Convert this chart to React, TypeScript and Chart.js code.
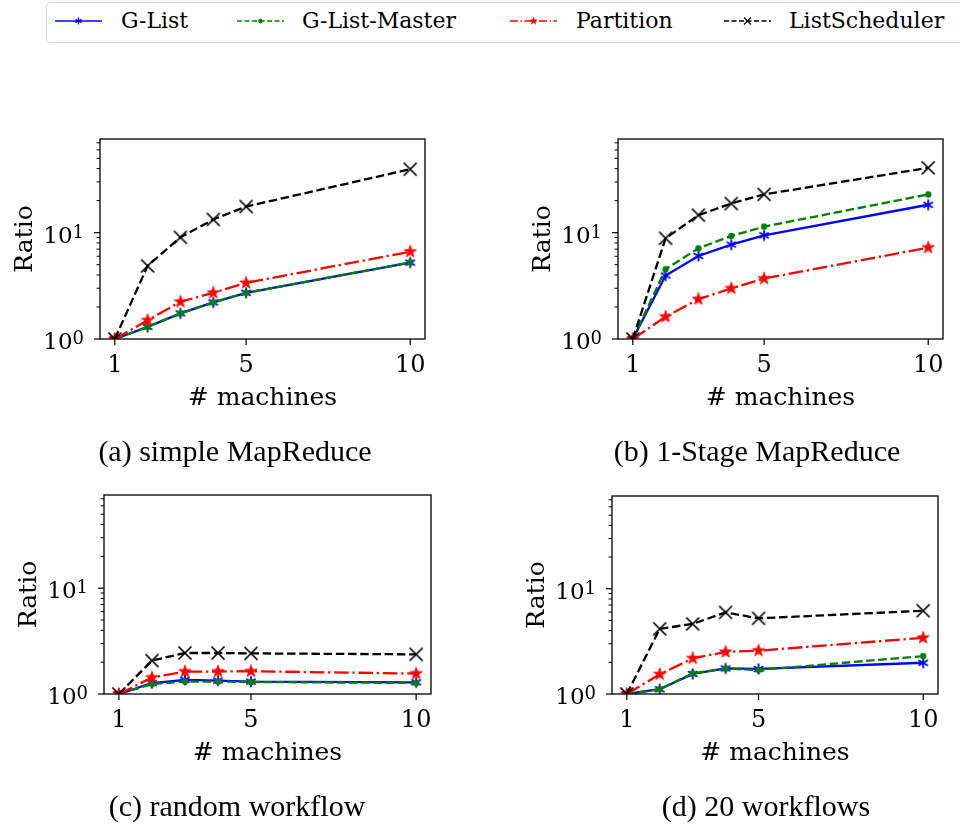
import React, { useEffect, useRef } from 'react';
import { Chart, registerables } from 'chart.js';

Chart.register(...registerables);

// ---------------- data ----------------
const machines = [1, 2, 3, 4, 5, 10];
const seriesNames = ['G-List', 'G-List-Master', 'Partition', 'ListScheduler'];

// (a) simple MapReduce
const simpleGList = [1, 1.3, 1.74, 2.21, 2.72, 5.23];
const simpleGListMaster = [1, 1.3, 1.74, 2.21, 2.72, 5.25];
const simplePartition = [1, 1.5, 2.24, 2.72, 3.37, 6.63];
const simpleListScheduler = [1, 4.87, 9.04, 13.3, 17.6, 39.5];

// (b) 1-Stage MapReduce
const stageGList = [1, 3.95, 6.04, 7.72, 9.44, 18.3];
const stageGListMaster = [1, 4.53, 7.13, 9.31, 11.4, 22.9];
const stagePartition = [1, 1.62, 2.37, 2.99, 3.7, 7.24];
const stageListScheduler = [1, 8.85, 14.6, 18.8, 22.9, 40.7];

// (c) random workflow
const randomGList = [1, 1.27, 1.36, 1.34, 1.31, 1.29];
const randomGListMaster = [1, 1.24, 1.31, 1.31, 1.3, 1.27];
const randomPartition = [1, 1.43, 1.63, 1.63, 1.64, 1.56];
const randomListScheduler = [1, 2.07, 2.44, 2.44, 2.42, 2.37];

// (d) 20 workflows
const twentyGList = [1, 1.11, 1.55, 1.75, 1.73, 1.98];
const twentyGListMaster = [1, 1.11, 1.57, 1.74, 1.69, 2.29];
const twentyPartition = [1, 1.54, 2.18, 2.51, 2.58, 3.42];
const twentyListScheduler = [1, 4.16, 4.63, 5.96, 5.23, 6.18];

const xTickValues = [1, 5, 10];
const xTickLabels = ['1', '5', '10'];
const yMajorTicks = [1, 10];
const yMajorBase = ['10', '10'];
const yMajorExp = ['0', '1'];
const yMinorTicks = [2, 3, 4, 5, 6, 7, 8, 9, 20, 30, 40, 50, 60, 70];
const xAxisTitle = '# machines';
const yAxisTitle = 'Ratio';
const captions = ['(a) simple MapReduce', '(b) 1-Stage MapReduce', '(c) random workflow', '(d) 20 workflows'];

const X_MIN = 0.55;
const X_MAX = 10.45;
const Y_MIN = 1;
const Y_MAX = 76;

// ---------------- styles / layout ----------------
const STYLES = [
  { color: '#0000ff', dash: [] as number[], marker: 'asterisk', legendDash: [] as number[] },
  { color: '#008000', dash: [8.5, 3.7], marker: 'circle', legendDash: [5, 2.5] },
  { color: '#ff0000', dash: [14.7, 3.7, 2.3, 3.7], marker: 'star', legendDash: [8, 2.5, 1.5, 2.5] },
  { color: '#000000', dash: [8.5, 3.7], marker: 'x', legendDash: [5, 2.5] },
];

const PANELS = [
  { cx: 0, cy: 90, cw: 480, ch: 380, l: 100, t: 139, r: 425, b: 339, capX: 235, capY: 461,
    series: [simpleGList, simpleGListMaster, simplePartition, simpleListScheduler] },
  { cx: 480, cy: 90, cw: 480, ch: 380, l: 618, t: 139, r: 943, b: 339, capX: 757, capY: 461,
    series: [stageGList, stageGListMaster, stagePartition, stageListScheduler] },
  { cx: 0, cy: 470, cw: 480, ch: 358, l: 104, t: 495, r: 431, b: 694, capX: 237, capY: 816,
    series: [randomGList, randomGListMaster, randomPartition, randomListScheduler] },
  { cx: 480, cy: 470, cw: 480, ch: 358, l: 612, t: 496, r: 938, b: 694, capX: 766, capY: 816,
    series: [twentyGList, twentyGListMaster, twentyPartition, twentyListScheduler] },
];

const LEGEND_LINE_X = [55, 237, 510, 724];
const LEGEND_TEXT_X = [121, 302, 576, 789];

// ---------------- markers ----------------
function makeCanvas(size: number) {
  const c = document.createElement('canvas');
  c.width = size;
  c.height = size;
  return c;
}

function markerCanvas(kind: string, color: string) {
  if (kind === 'star') {
    const ro = 6.5, ri = 2.6;
    const s = 18;
    const c = makeCanvas(s);
    const g = c.getContext('2d')!;
    g.translate(s / 2, s / 2);
    g.beginPath();
    for (let k = 0; k < 10; k++) {
      const r = k % 2 === 0 ? ro : ri;
      const a = -Math.PI / 2 + (k * Math.PI) / 5;
      g.lineTo(r * Math.cos(a), r * Math.sin(a));
    }
    g.closePath();
    g.fillStyle = color;
    g.fill();
    g.strokeStyle = color;
    g.lineWidth = 0.8;
    g.stroke();
    return c;
  }
  if (kind === 'asterisk') {
    const s = 16;
    const c = makeCanvas(s);
    const g = c.getContext('2d')!;
    g.translate(s / 2, s / 2);
    g.strokeStyle = color;
    g.lineWidth = 1.8;
    g.lineCap = 'butt';
    const len = 5.5;
    for (let k = 0; k < 3; k++) {
      const a = -Math.PI / 2 + (k * Math.PI) / 3;
      g.beginPath();
      g.moveTo(-len * Math.cos(a), -len * Math.sin(a));
      g.lineTo(len * Math.cos(a), len * Math.sin(a));
      g.stroke();
    }
    return c;
  }
  if (kind === 'circle') {
    const s = 10;
    const c = makeCanvas(s);
    const g = c.getContext('2d')!;
    g.beginPath();
    g.arc(s / 2, s / 2, 3.2, 0, Math.PI * 2);
    g.fillStyle = color;
    g.fill();
    return c;
  }
  // x
  const s = 18;
  const c = makeCanvas(s);
  const g = c.getContext('2d')!;
  g.translate(s / 2, s / 2);
  g.strokeStyle = color;
  g.lineWidth = 1.7;
  const h = 6.5;
  g.beginPath();
  g.moveTo(-h, -h);
  g.lineTo(h, h);
  g.moveTo(-h, h);
  g.lineTo(h, -h);
  g.stroke();
  return c;
}

// ---------------- axes plugin ----------------
const SERIF = '"DejaVu Serif", serif';

function makeAxesPlugin(caption: string, capX: number, capY: number) {
  return {
    id: 'mplAxes',
    afterDraw(chart: any) {
      const { ctx, chartArea, scales } = chart;
      const { left, top, right, bottom } = chartArea;
      const xs = scales.x;
      const ys = scales.y;
      ctx.save();
      ctx.strokeStyle = '#000';
      ctx.fillStyle = '#000';
      // frame
      ctx.lineWidth = 1.3;
      ctx.strokeRect(left, top, right - left, bottom - top);
      // x ticks
      ctx.lineWidth = 1.2;
      ctx.font = `24px ${SERIF}`;
      ctx.textAlign = 'center';
      ctx.textBaseline = 'alphabetic';
      xTickValues.forEach((v, i) => {
        const px = xs.getPixelForValue(v);
        ctx.beginPath();
        ctx.moveTo(px, bottom);
        ctx.lineTo(px, bottom + 6);
        ctx.stroke();
        ctx.fillText(xTickLabels[i], px, bottom + 32.5);
      });
      // y minor ticks
      ctx.lineWidth = 1;
      yMinorTicks.forEach((v) => {
        const py = ys.getPixelForValue(v);
        ctx.beginPath();
        ctx.moveTo(left, py);
        ctx.lineTo(left - 3.5, py);
        ctx.stroke();
      });
      // y major ticks + labels
      ctx.lineWidth = 1.2;
      yMajorTicks.forEach((v, i) => {
        const py = ys.getPixelForValue(v);
        ctx.beginPath();
        ctx.moveTo(left, py);
        ctx.lineTo(left - 6, py);
        ctx.stroke();
        ctx.textAlign = 'left';
        ctx.font = `18px ${SERIF}`;
        const w2 = ctx.measureText(yMajorExp[i]).width;
        ctx.font = `23px ${SERIF}`;
        const w1 = ctx.measureText(yMajorBase[i]).width;
        const rEdge = left - 16;
        ctx.fillText(yMajorBase[i], rEdge - w2 - w1, py + 10);
        ctx.font = `18px ${SERIF}`;
        ctx.fillText(yMajorExp[i], rEdge - w2, py + 5.2);
      });
      // axis titles
      ctx.font = `25px ${SERIF}`;
      ctx.textAlign = 'center';
      ctx.fillText(xAxisTitle, (left + right) / 2, bottom + 66);
      ctx.save();
      ctx.translate(left - 68, (top + bottom) / 2);
      ctx.rotate(-Math.PI / 2);
      ctx.fillText(yAxisTitle, 0, 0);
      ctx.restore();
      // caption
      ctx.font = `30px "Liberation Serif", serif`;
      ctx.textAlign = 'center';
      ctx.fillText(caption, capX, capY);
      ctx.restore();
    },
  };
}

// ---------------- components ----------------
function Panel({ idx }: { idx: number }) {
  const ref = useRef<HTMLCanvasElement>(null);
  const p = PANELS[idx];
  useEffect(() => {
    const canvas = ref.current!;
    const datasets = p.series.map((vals, si) => {
      const st = STYLES[si];
      return {
        label: seriesNames[si],
        data: machines.map((m, k) => ({ x: m, y: vals[k] })),
        borderColor: st.color,
        backgroundColor: st.color,
        borderWidth: 2.3,
        borderDash: st.dash,
        pointStyle: markerCanvas(st.marker, st.color) as any,
        pointRadius: 6,
        pointHoverRadius: 6,
        fill: false,
        tension: 0,
        order: 3 - si,
      };
    });
    const chart = new Chart(canvas, {
      type: 'line',
      data: { datasets },
      options: {
        animation: false,
        responsive: false,
        events: [],
        layout: {
          padding: {
            left: p.l - p.cx,
            top: p.t - p.cy,
            right: p.cx + p.cw - p.r,
            bottom: p.cy + p.ch - p.b,
          },
        },
        scales: {
          x: { type: 'linear', min: X_MIN, max: X_MAX, display: false },
          y: { type: 'logarithmic', min: Y_MIN, max: Y_MAX, display: false },
        },
        plugins: { legend: { display: false }, tooltip: { enabled: false } },
      },
      plugins: [makeAxesPlugin(captions[idx], p.capX - p.cx, p.capY - p.cy)],
    } as any);
    return () => chart.destroy();
  }, []);
  return (
    <canvas
      ref={ref}
      width={p.cw}
      height={p.ch}
      style={{ position: 'absolute', left: p.cx, top: p.cy, width: p.cw, height: p.ch }}
    />
  );
}

function LegendMarker({ kind, color }: { kind: string; color: string }) {
  const cx = 23.5, cy = 10;
  if (kind === 'star') {
    const pts: string[] = [];
    for (let k = 0; k < 10; k++) {
      const r = k % 2 === 0 ? 4.5 : 1.8;
      const a = -Math.PI / 2 + (k * Math.PI) / 5;
      pts.push(`${cx + r * Math.cos(a)},${cy + r * Math.sin(a)}`);
    }
    return <polygon points={pts.join(' ')} fill={color} />;
  }
  if (kind === 'asterisk') {
    const lines = [0, 1, 2].map((k) => {
      const a = -Math.PI / 2 + (k * Math.PI) / 3;
      const l = 3.5;
      return (
        <line key={k} x1={cx - l * Math.cos(a)} y1={cy - l * Math.sin(a)} x2={cx + l * Math.cos(a)} y2={cy + l * Math.sin(a)} stroke={color} strokeWidth={1.3} />
      );
    });
    return <g>{lines}</g>;
  }
  if (kind === 'circle') return <circle cx={cx} cy={cy} r={2.2} fill={color} />;
  const h = 3.5;
  return (
    <g stroke={color} strokeWidth={1.1}>
      <line x1={cx - h} y1={cy - h} x2={cx + h} y2={cy + h} />
      <line x1={cx - h} y1={cy + h} x2={cx + h} y2={cy - h} />
    </g>
  );
}

function Legend() {
  return (
    <>
      <div
        style={{
          position: 'absolute',
          left: 46,
          top: 2,
          width: 940,
          height: 41,
          border: '1.3px solid #d6d6d6',
          borderRadius: 5,
          boxSizing: 'border-box',
          background: '#fff',
        }}
      />
      {seriesNames.map((name, i) => (
        <React.Fragment key={name}>
          <svg
            width={47}
            height={20}
            style={{ position: 'absolute', left: LEGEND_LINE_X[i], top: 11 }}
          >
            <line
              x1={0}
              y1={10}
              x2={47}
              y2={10}
              stroke={STYLES[i].color}
              strokeWidth={1.5}
              strokeDasharray={STYLES[i].legendDash.join(' ') || undefined}
            />
            <LegendMarker kind={STYLES[i].marker} color={STYLES[i].color} />
          </svg>
          <span
            style={{
              position: 'absolute',
              left: LEGEND_TEXT_X[i],
              top: 10,
              fontFamily: SERIF,
              fontSize: 22,
              lineHeight: '22px',
              whiteSpace: 'nowrap',
              color: '#000',
            }}
          >
            {name}
          </span>
        </React.Fragment>
      ))}
    </>
  );
}

export default function App() {
  return (
    <div
      style={{
        position: 'absolute',
        left: 0,
        top: 0,
        width: 960,
        height: 828,
        overflow: 'hidden',
        background: '#fff',
      }}
    >
      <Legend />
      {PANELS.map((_, i) => (
        <Panel key={i} idx={i} />
      ))}
    </div>
  );
}
